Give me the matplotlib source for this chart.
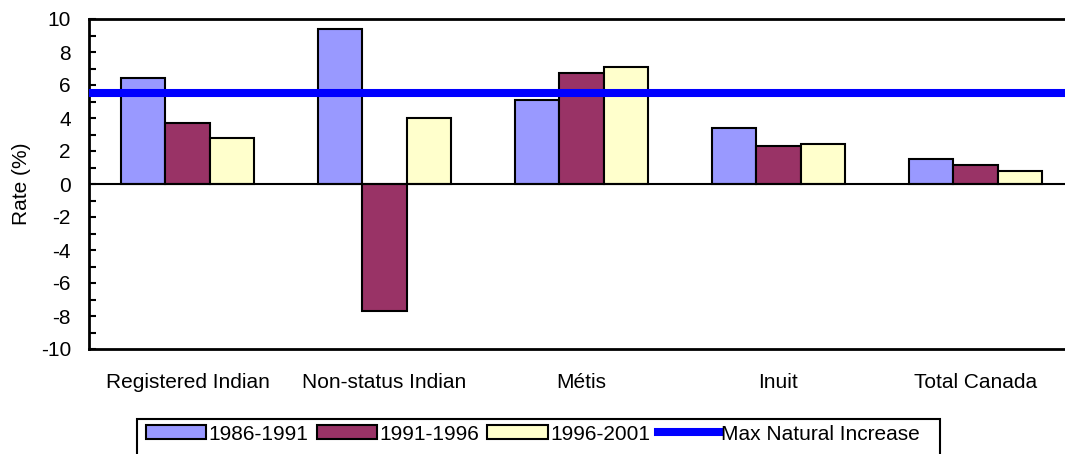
import numpy as np
import matplotlib.pyplot as plt
from matplotlib.patches import Patch, Rectangle
from matplotlib.lines import Line2D

plt.rcParams['font.family'] = ['Liberation Sans', 'DejaVu Sans']
plt.rcParams['axes.unicode_minus'] = False

groups = ['Registered Indian', 'Non-status Indian', 'Métis', 'Inuit', 'Total Canada']
periods = ['1986-1991', '1991-1996', '1996-2001']
rate_86_91 = [6.4, 9.4, 5.1, 3.4, 1.5]
rate_91_96 = [3.7, -7.7, 6.7, 2.3, 1.15]
rate_96_01 = [2.8, 4.0, 7.1, 2.4, 0.8]
max_natural = 5.5

colors = ['#9999FF', '#993366', '#FFFFCC']
W, H = 1065, 454
fig = plt.figure(figsize=(W / 100, H / 100), dpi=100)
# plot area runs past the right edge, as in the cropped original
left, right, top, bottom = 89, 1074, 19, 349
ax = fig.add_axes([left / W, 1 - bottom / H, (right - left) / W, (bottom - top) / H])

x = np.arange(len(groups))
bw = 0.224
for k, vals in enumerate([rate_86_91, rate_91_96, rate_96_01]):
    ax.bar(x + (k - 1) * bw, vals, bw, color=colors[k], edgecolor='black',
           linewidth=1.5, zorder=2)

ax.axhline(0, color='black', linewidth=1.5, zorder=3)
ax.axhline(max_natural, color='#0000FF', linewidth=5.8, zorder=4)

fs = 15
ax.set_xlim(-0.5, len(groups) - 0.5)
ax.set_ylim(-10, 10)
ax.set_yticks(np.arange(-10, 11, 2))
ax.set_yticks(np.arange(-9, 10, 2), minor=True)
ax.tick_params(axis='y', which='both', direction='in', length=5, width=1.5,
               labelsize=fs, pad=13)
ax.set_xticks(x)
ax.set_xticklabels(groups)
ax.tick_params(axis='x', length=0, labelsize=fs, pad=17)
for s in ax.spines.values():
    s.set_linewidth(2)
ax.set_ylabel('Rate (%)', fontsize=fs, labelpad=7)

# legend box, its lower edge falls below the cropped figure
fig.patches.append(Rectangle((137 / W, 1 - 470 / H), (940 - 137) / W, 51 / H,
                             transform=fig.transFigure, facecolor='white',
                             edgecolor='black', linewidth=1.5))
handles = [Patch(facecolor=c, edgecolor='black', linewidth=1.5) for c in colors]
handles.append(Line2D([0], [0], color='#0000FF', linewidth=5.8))
fig.legend(handles, periods + ['Max Natural Increase'], loc='center left',
           bbox_to_anchor=(146 / W, 1 - 434 / H), ncol=4, fontsize=fs,
           frameon=False, handlelength=2.9, handleheight=0.65, handletextpad=0.1,
           columnspacing=0.4, borderpad=0, borderaxespad=0)

fig.savefig('out.png', dpi=100)
